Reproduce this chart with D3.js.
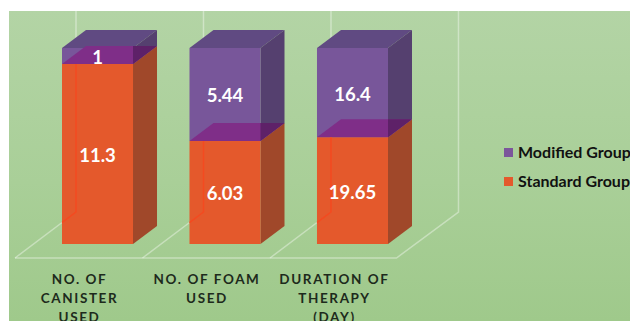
<!DOCTYPE html>
<html>
<head>
<meta charset="utf-8">
<script src="https://cdn.jsdelivr.net/npm/d3@7"></script>
<style>
  html, body { margin: 0; padding: 0; background: #fff; overflow: hidden; }
  svg { display: block; }
</style>
</head>
<body>
<svg id="chart" width="630" height="321"></svg>
<script>
// Chart values
const categories = ["NO. OF CANISTER USED", "NO. OF FOAM USED", "DURATION OF THERAPY (DAY)"];
const categoryLines = [["NO. OF", "CANISTER", "USED"], ["NO. OF FOAM", "USED"], ["DURATION OF", "THERAPY", "(DAY)"]];
const standardGroup = [11.3, 6.03, 19.65];
const modifiedGroup = [1, 5.44, 16.4];
const seriesNames = ["Standard Group", "Modified Group"];

const W = 630, H = 321;
const svg = d3.select("#chart");

// Panel gradient
const defs = svg.append("defs");
const grad = defs.append("linearGradient").attr("id", "panel")
  .attr("x1", 0).attr("y1", 0).attr("x2", 0).attr("y2", 1);
grad.append("stop").attr("offset", "0%").attr("stop-color", "#b3d4a5");
grad.append("stop").attr("offset", "55%").attr("stop-color", "#a9cf98");
grad.append("stop").attr("offset", "100%").attr("stop-color", "#9fc98b");
svg.append("rect").attr("x", 9).attr("y", 11).attr("width", W - 9).attr("height", H - 11).attr("fill", "url(#panel)");

// Scales for the 100% stacked columns
const x = d3.scaleBand().domain(categories).range([62, 388]).paddingInner(0.443).paddingOuter(0);
const y = d3.scaleLinear().domain([0, 1]).range([244, 48]);
const depthX = 24, depthY = -18;

const rows = categories.map((c, i) => ({ category: c, standard: standardGroup[i], modified: modifiedGroup[i] }));
const stacked = d3.stack().keys(["standard", "modified"]).offset(d3.stackOffsetExpand)(rows);

// Perspective frame: floor and back-wall guides
const floorFrontY = 258, floorBackY = 212, wallTop = 11;
const guideOffset = 14;
const step = x.step();
const guideColor = "rgba(255,255,255,0.38)";
const frame = svg.append("g").attr("fill", "none").attr("stroke", guideColor).attr("stroke-width", 1.5);
categories.forEach(c => {
  const gx = x(c) + guideOffset;
  frame.append("path").attr("d", d3.line()([[gx - 61, floorFrontY], [gx, floorBackY], [gx, wallTop]]));
});
const rightBack = x(categories[2]) + guideOffset + step;
frame.append("path").attr("d", d3.line()([
  [x(categories[0]) + guideOffset - 61, floorFrontY],
  [rightBack - 62, floorFrontY],
  [rightBack, floorBackY],
  [rightBack, wallTop]
]));

const poly = pts => d3.line()(pts) + "Z";
const bars = svg.append("g");

categories.forEach((c, i) => {
  const x0 = x(c), x1 = x0 + x.bandwidth();
  const base = y(stacked[0][i][0]);
  const split = y(stacked[0][i][1]);
  const top = y(stacked[1][i][1]);
  const g = bars.append("g");

  // Modified group: top and side faces
  g.append("path").attr("fill", "#604a82")
    .attr("d", poly([[x0, top], [x1, top], [x1 + depthX, top + depthY], [x0 + depthX, top + depthY]]));
  g.append("path").attr("fill", "#55406f")
    .attr("d", poly([[x1, top], [x1 + depthX, top + depthY], [x1 + depthX, split + depthY], [x1, split]]));
  // Modified group: front face
  g.append("rect").attr("x", x0).attr("y", top).attr("width", x1 - x0).attr("height", split - top).attr("fill", "#78569a");

  // Standard group: side and front faces
  g.append("path").attr("fill", "#a0482a")
    .attr("d", poly([[x1, split], [x1 + depthX, split + depthY], [x1 + depthX, base + depthY], [x1, base]]));
  g.append("rect").attr("x", x0).attr("y", split).attr("width", x1 - x0).attr("height", base - split).attr("fill", "#e4592c");

  // Top of the standard segment seen through the modified front and side
  g.append("path").attr("fill", "#7f2e88")
    .attr("d", poly([[x0, split], [x1, split], [x1 + depthX, split + depthY], [x0 + depthX, split + depthY]]));
  g.append("path").attr("fill", "#5e2168")
    .attr("d", poly([[x1, split], [x1 + depthX, split + depthY], [x1, split + depthY]]));

  // Wall guide showing through the orange front
  const gx = x0 + guideOffset;
  g.append("path").attr("fill", "none").attr("stroke", "#f44a20").attr("stroke-width", 1.5)
    .attr("d", d3.line()([[gx, split], [gx, floorBackY], [x0, floorBackY + guideOffset * (46 / 61)]]));

  // Value labels
  const labels = g.append("g").attr("fill", "#fff").attr("font-family", "Lato, sans-serif")
    .attr("font-weight", 700).attr("font-size", 18.5).attr("text-anchor", "middle");
  labels.append("text").attr("x", (x0 + x1) / 2).attr("y", (base + split) / 2 + 8).text(standardGroup[i]);
  labels.append("text").attr("x", (x0 + x1) / 2).attr("y", (split + top) / 2 + 8).text(modifiedGroup[i]);
});

// Category labels below the floor
const catLabels = svg.append("g").attr("fill", "#1d2a1c").attr("font-family", "Lato, sans-serif")
  .attr("font-weight", 700).attr("font-size", 13.5).attr("letter-spacing", 1.6).attr("text-anchor", "middle");
categories.forEach((c, i) => {
  categoryLines[i].forEach((line, j) => {
    catLabels.append("text").attr("x", x(c) + x.bandwidth() / 2 - 18).attr("y", 284 + j * 19).text(line);
  });
});

// Legend
const legendColors = d3.scaleOrdinal().domain(seriesNames).range(["#e4592c", "#7b569b"]);
const legend = svg.append("g").attr("font-family", "Lato, sans-serif").attr("font-weight", 700)
  .attr("font-size", 16).attr("fill", "#111");
[["Modified Group", 152.5], ["Standard Group", 181.5]].forEach(([name, cy]) => {
  legend.append("rect").attr("x", 504).attr("y", cy - 4.5).attr("width", 9).attr("height", 9).attr("fill", legendColors(name));
  legend.append("text").attr("x", 518).attr("y", cy + 5.5).text(name);
});
</script>
</body>
</html>
